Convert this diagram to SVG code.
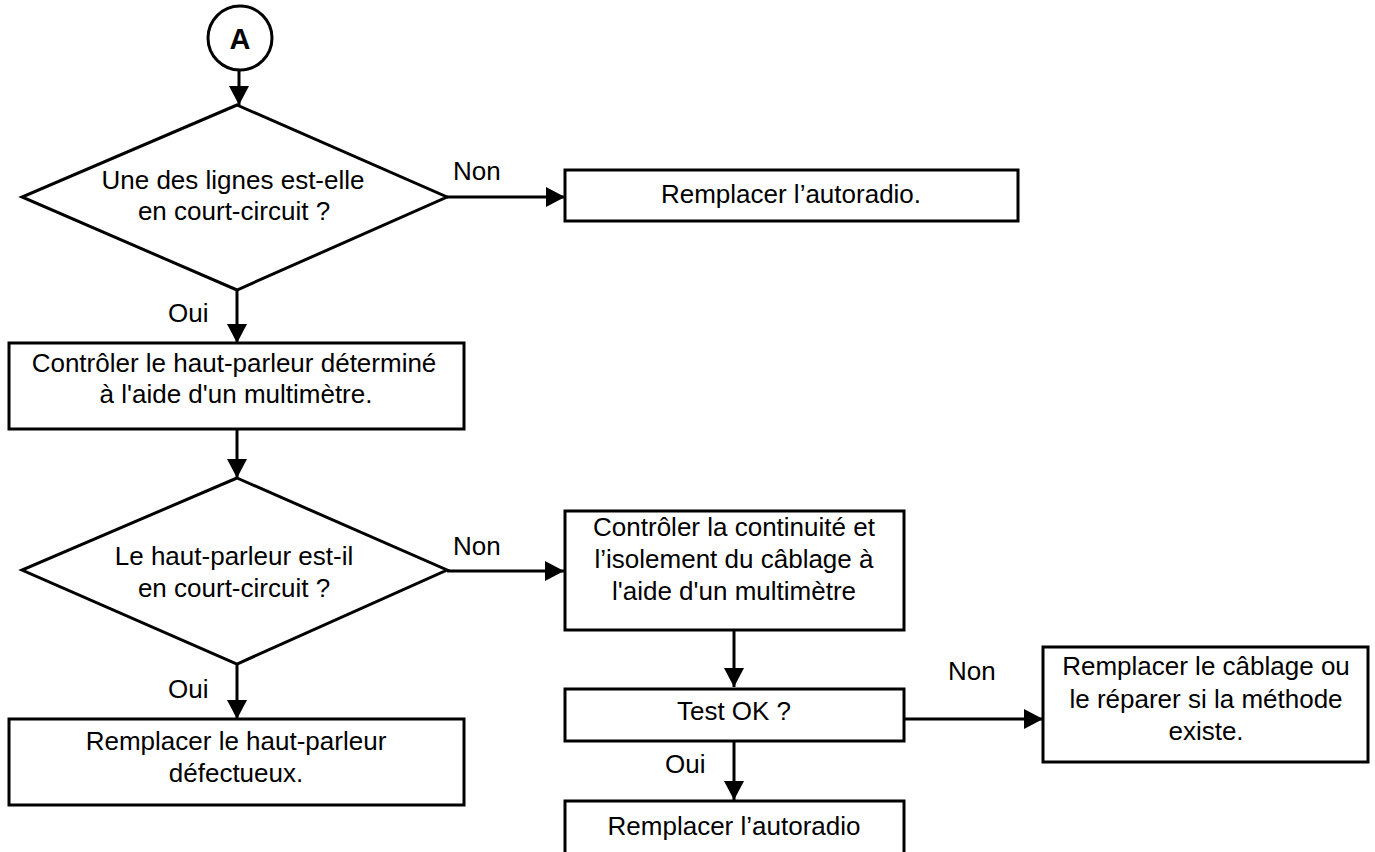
<svg xmlns="http://www.w3.org/2000/svg" width="1375" height="852" viewBox="0 0 1375 852">
<style>
.shape{fill:#fff;stroke:#000;stroke-width:3}
.conn{fill:none;stroke:#000;stroke-width:3}
.t{font-family:"Liberation Sans",Arial,sans-serif;font-size:26px;fill:#000;text-anchor:middle}
.lbl{font-family:"Liberation Sans",Arial,sans-serif;font-size:26px;fill:#000}
.big{font-family:"Liberation Sans",Arial,sans-serif;font-size:29px;font-weight:bold;fill:#000;text-anchor:middle}
</style>
<defs>
<marker id="arr" markerUnits="userSpaceOnUse" markerWidth="20" markerHeight="22" refX="19" refY="11" orient="auto">
<path d="M0,1 L19,11 L0,21 z" fill="#000"/>
</marker>
</defs>
<rect width="1375" height="852" fill="#fff"/>
<g id="connectors">
<line class="conn" x1="239" y1="70" x2="239" y2="105" marker-end="url(#arr)"/>
<line class="conn" x1="447" y1="197" x2="565" y2="197" marker-end="url(#arr)"/>
<text class="lbl" x="453" y="180">Non</text>
<line class="conn" x1="237" y1="290" x2="237" y2="343" marker-end="url(#arr)"/>
<text class="lbl" x="168" y="322">Oui</text>
<line class="conn" x1="237" y1="429" x2="237" y2="478" marker-end="url(#arr)"/>
<line class="conn" x1="447" y1="571" x2="564" y2="571" marker-end="url(#arr)"/>
<text class="lbl" x="453" y="555">Non</text>
<line class="conn" x1="237" y1="664" x2="237" y2="719" marker-end="url(#arr)"/>
<text class="lbl" x="168" y="698">Oui</text>
<line class="conn" x1="734" y1="630" x2="734" y2="687" marker-end="url(#arr)"/>
<line class="conn" x1="904" y1="719" x2="1043" y2="719" marker-end="url(#arr)"/>
<text class="lbl" x="948" y="680">Non</text>
<line class="conn" x1="734" y1="741" x2="734" y2="800" marker-end="url(#arr)"/>
<text class="lbl" x="665" y="773">Oui</text>
</g>
<g id="startA">
<circle class="shape" cx="240" cy="38" r="32"/>
<text class="big" x="240" y="49">A</text>
</g>
<g id="decision1">
<polygon class="shape" points="237,105 447,197 237,290 22,197"/>
<text class="t" x="233" y="189">Une des lignes est-elle</text>
<text class="t" x="234" y="220">en court-circuit ?</text>
</g>
<g id="replaceRadio1">
<rect class="shape" x="565" y="170" width="453" height="51"/>
<text class="t" x="791" y="203">Remplacer l’autoradio.</text>
</g>
<g id="checkSpeaker">
<rect class="shape" x="9" y="343" width="455" height="86"/>
<text class="t" x="234" y="372">Contrôler le haut-parleur déterminé</text>
<text class="t" x="236" y="403">à l'aide d'un multimètre.</text>
</g>
<g id="decision2">
<polygon class="shape" points="237,478 447,570 237,664 22,570"/>
<text class="t" x="234" y="565">Le haut-parleur est-il</text>
<text class="t" x="234" y="597">en court-circuit ?</text>
</g>
<g id="checkWiring">
<rect class="shape" x="565" y="511" width="339" height="119"/>
<text class="t" x="734" y="536">Contrôler la continuité et</text>
<text class="t" x="734" y="568">l’isolement du câblage à</text>
<text class="t" x="734" y="600">l'aide d'un multimètre</text>
</g>
<g id="testOK">
<rect class="shape" x="565" y="689" width="339" height="52"/>
<text class="t" x="734" y="720">Test OK ?</text>
</g>
<g id="replaceWiring">
<rect class="shape" x="1043" y="647" width="325" height="115"/>
<text class="t" x="1206" y="675">Remplacer le câblage ou</text>
<text class="t" x="1206" y="708">le réparer si la méthode</text>
<text class="t" x="1206" y="740">existe.</text>
</g>
<g id="replaceRadio2">
<rect class="shape" x="565" y="801" width="339" height="60"/>
<text class="t" x="734" y="835">Remplacer l’autoradio</text>
</g>
<g id="replaceSpeaker">
<rect class="shape" x="9" y="719" width="455" height="86"/>
<text class="t" x="236" y="750">Remplacer le haut-parleur</text>
<text class="t" x="236" y="782">défectueux.</text>
</g>
</svg>
